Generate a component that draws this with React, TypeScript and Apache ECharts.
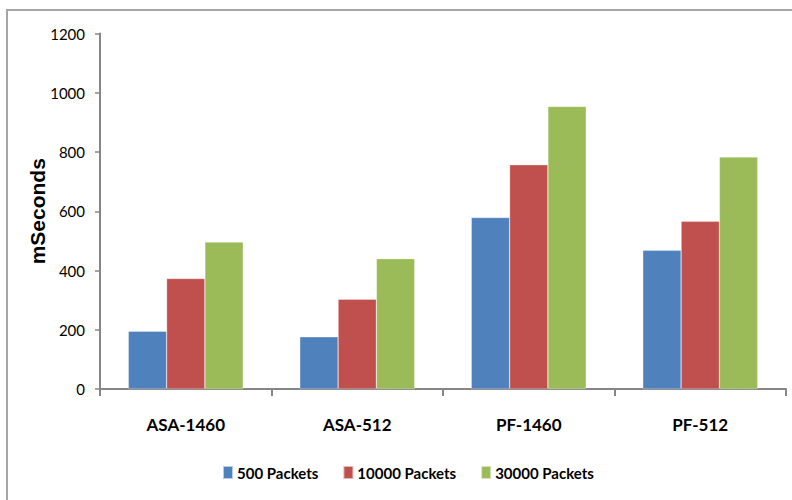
import React, { useEffect, useRef } from "react";
import * as echarts from "echarts";

const categories = ["ASA-1460", "ASA-512", "PF-1460", "PF-512"];
const seriesNames = ["500 Packets", "10000 Packets", "30000 Packets"];
const packets500 = [195, 176, 579, 468];
const packets10000 = [373, 303, 757, 566];
const packets30000 = [496, 440, 954, 783];
const colors = ["#4F81BD", "#C0504D", "#9BBB59"];

const FONT = "Lato, 'Liberation Sans', sans-serif";

export default function App() {
  const ref = useRef<HTMLDivElement>(null);
  useEffect(() => {
    document.body.style.margin = "0";
    const chart = echarts.init(ref.current!, null, { renderer: "svg" });
    const values = [packets500, packets10000, packets30000];
    chart.setOption({
      animation: false,
      backgroundColor: "#ffffff",
      graphic: [
        {
          type: "rect",
          shape: { x: 7, y: 10, width: 800, height: 500 },
          style: { fill: "none", stroke: "#a6a6a6", lineWidth: 2 },
          silent: true,
        },
      ],
      grid: { left: 100, top: 33.5, right: 6, bottom: 111 },
      legend: {
        data: seriesNames,
        bottom: 15,
        left: 217,
        itemWidth: 10,
        itemHeight: 13,
        itemGap: 24,
        icon: "rect",
        textStyle: { fontFamily: FONT, fontWeight: "bold", fontSize: 15, color: "#000", padding: [0, 0, 0, -1] },
      },
      xAxis: {
        type: "category",
        data: categories,
        axisLine: { lineStyle: { color: "#868686", width: 2 } },
        axisTick: { show: true, length: 7, lineStyle: { color: "#868686", width: 2 } },
        axisLabel: { fontFamily: FONT, fontWeight: "bold", fontSize: 17, color: "#000", margin: 27 },
      },
      yAxis: {
        type: "value",
        min: 0,
        max: 1200,
        interval: 200,
        name: "mSeconds",
        nameLocation: "middle",
        nameGap: 52,
        nameMoveOverlap: false,
        nameTextStyle: { fontFamily: "'Liberation Sans', Arial, sans-serif", fontWeight: "bold", fontSize: 21, color: "#000" },
        axisLine: { show: true, lineStyle: { color: "#868686", width: 2 } },
        axisTick: { show: true, length: 5, lineStyle: { color: "#868686", width: 1.5 } },
        splitLine: { show: false },
        axisLabel: { fontFamily: FONT, fontSize: 15, color: "#000", margin: 15, formatter: (v: number) => String(v) },
      },
      series: seriesNames.map((name, i) => ({
        name,
        type: "bar",
        data: values[i],
        barGap: "0%",
        barCategoryGap: "33%",
        itemStyle: { color: colors[i], borderColor: "rgba(255,255,255,0.6)", borderWidth: 0.5 },
      })),
    });
    return () => chart.dispose();
  }, []);
  return <div ref={ref} style={{ width: 792, height: 500 }} />;
}
